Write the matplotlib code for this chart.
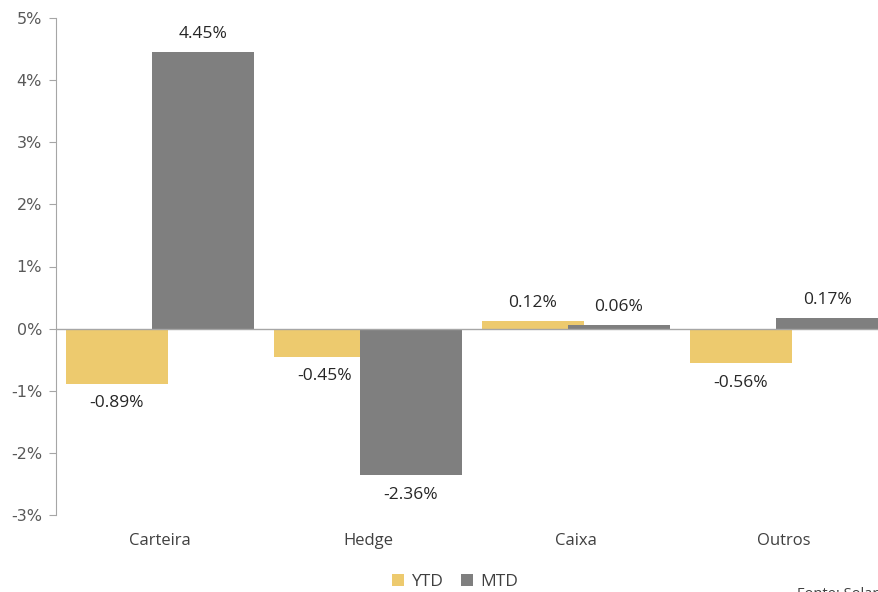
import numpy as np
import matplotlib.pyplot as plt

categorias = ['Carteira', 'Hedge', 'Caixa', 'Outros']
ytd = [-0.89, -0.45, 0.12, -0.56]
mtd = [4.45, -2.36, 0.06, 0.17]
yticks = [-3, -2, -1, 0, 1, 2, 3, 4, 5]

cor_ytd = '#EDCA6E'
cor_mtd = '#7F7F7F'

fig = plt.figure(figsize=(8.79, 5.92), dpi=100)
ax = fig.add_axes([56/879, 77/592, 832/879, 497/592])

x = np.arange(len(categorias))
w = 0.487
d = 0.207
b1 = ax.bar(x - d, ytd, w, color=cor_ytd, zorder=2)
b2 = ax.bar(x + d, mtd, w, color=cor_mtd, zorder=3)

for bars, vals in ((b1, ytd), (b2, mtd)):
    for b, v in zip(bars, vals):
        off = 13 if v >= 0 else -14
        ax.annotate('%.2f%%' % v, (b.get_x() + b.get_width()/2, v),
                    xytext=(0, off), textcoords='offset points',
                    ha='center', va='center', fontsize=12.5,
                    family='Open Sans', color='#262626')

ax.set_xlim(-0.5, len(categorias) - 0.5)
ax.set_ylim(-3, 5)
ax.set_yticks(yticks)
ax.set_yticklabels(['%d%%' % t for t in yticks], fontsize=11.5, color='#595959')
ax.set_xticks(x)
ax.set_xticklabels(categorias, fontsize=12, family='Open Sans', color='#404040')
ax.tick_params(axis='x', length=0, pad=13)
ax.tick_params(axis='y', length=5, color='#A6A6A6', pad=5)
for s in ('top', 'right', 'bottom'):
    ax.spines[s].set_visible(False)
ax.spines['left'].set_color('#A6A6A6')
ax.axhline(0, color='#A6A6A6', lw=1, zorder=4)

leg = fig.legend([b1, b2], ['YTD', 'MTD'], loc='center', bbox_to_anchor=(455/879, 1 - 582/592),
                 ncol=2, frameon=False, handlelength=0.7, handleheight=0.7,
                 handletextpad=0.4, columnspacing=1.0,
                 prop={'family': 'Open Sans', 'size': 12.5})
for t in leg.get_texts():
    t.set_color('#404040')

fig.text(797/879, 5/592, 'Fonte: Solar', ha='left', va='top', fontsize=10.5,
         family='Open Sans', color='#404040')

plt.savefig('out.png', dpi=100)
